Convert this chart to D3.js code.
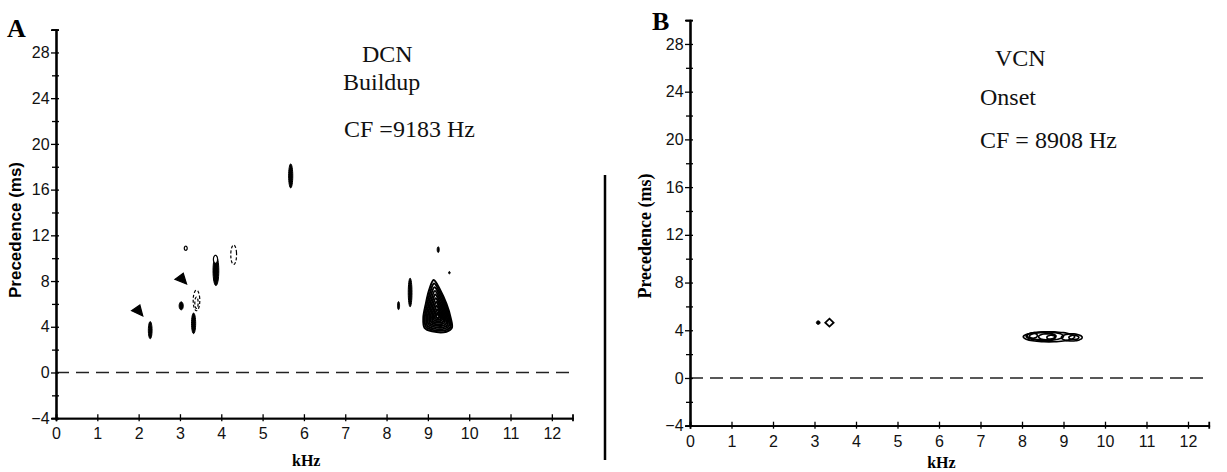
<!DOCTYPE html>
<html><head><meta charset="utf-8">
<script src="https://cdn.jsdelivr.net/npm/d3@7"></script>
<style>
html,body{margin:0;padding:0;background:#fff;}
svg{display:block;}
</style></head>
<body>
<svg id="c" width="1227" height="472"></svg>
<script>
// ---------- data ----------
const xTicks = [0,1,2,3,4,5,6,7,8,9,10,11,12];
const yMajor = [-4,0,4,8,12,16,20,24,28];
const yMinor = [-2,2,6,10,14,18,22,26,30];

// Panel A (DCN Buildup) — filled contour islands: kHz centre, ms centre, half-width kHz, half-height ms
const aFilled = [
  {k:2.28, ms:3.7,  dk:0.045, dms:0.75},
  {k:3.03, ms:5.83, dk:0.05,  dms:0.35},
  {k:3.33, ms:4.3,  dk:0.05,  dms:0.9},
  {k:3.87, ms:8.9,  dk:0.07,  dms:1.3},
  {k:5.68, ms:17.2, dk:0.05,  dms:1.05},
  {k:8.57, ms:7.0,  dk:0.045, dms:1.25},
  {k:8.29, ms:5.85, dk:0.025, dms:0.35},
  {k:9.25, ms:10.75,dk:0.025, dms:0.25},
  {k:9.52, ms:8.73, dk:0.02,  dms:0.1}
];
// Panel A open contours (k, ms, dk, dms, dashed)
const aOpen = [
  {k:3.14, ms:10.87, dk:0.035, dms:0.18, dashed:false},
  {k:3.40, ms:6.3,   dk:0.08,  dms:0.9,  dashed:true},
  {k:3.40, ms:6.1,   dk:0.04,  dms:0.5,  dashed:true},
  {k:3.86, ms:9.9,   dk:0.05,  dms:0.35, dashed:false},
  {k:4.30, ms:10.3,  dk:0.07,  dms:0.85, dashed:true}
];
// Panel A filled triangles (kHz, ms)
const aTriangles = [
  [[2.03,5.9],[1.83,5.4],[2.10,4.94]],
  [[3.08,8.68],[2.88,8.15],[3.16,7.74]]
];
// Panel A main response area near CF (outer contour, kHz / ms)
const aMainOuter = [[9.14,8.1],[9.3,7.2],[9.45,6.0],[9.55,4.8],[9.58,3.9],[9.45,3.57],[9.1,3.6],[8.92,3.9],[8.89,4.8],[8.95,6.0],[9.03,7.2]];
const aMainCentre = [9.24,4.9];
const aMainLevels = [1,0.9,0.8,0.7,0.6,0.5,0.4,0.3,0.2,0.1];

// Panel B (VCN Onset)
const bFilled = [ {k:3.09, ms:4.64, dk:0.045, dms:0.15} ];
const bDiamond = [[3.36,4.97],[3.46,4.64],[3.36,4.31],[3.26,4.64]];
const bOpen = [
  {k:8.65, ms:3.45, dk:0.62, dms:0.42},
  {k:8.55, ms:3.5,  dk:0.45, dms:0.36},
  {k:8.5,  ms:3.5,  dk:0.32, dms:0.3},
  {k:8.6,  ms:3.45, dk:0.2,  dms:0.25},
  {k:8.7,  ms:3.4,  dk:0.1,  dms:0.18},
  {k:9.2,  ms:3.4,  dk:0.25, dms:0.3},
  {k:9.25, ms:3.4,  dk:0.12, dms:0.18},
  {k:8.25, ms:3.55, dk:0.12, dms:0.22}
];

// ---------- drawing ----------
const svg = d3.select("#c");
const serif = "'Liberation Serif','Times New Roman',serif";
const sans = "'Liberation Sans',Arial,sans-serif";

function ellipsePts(b){
  return d3.range(0, 2*Math.PI, Math.PI/16).map(t => [b.k + b.dk*Math.cos(t), b.ms + b.dms*Math.sin(t)]);
}

function panel(cfg){
  const x = d3.scaleLinear().domain([0,12.5]).range(cfg.xr);
  const y = d3.scaleLinear().domain([-4,30]).range(cfg.yr);
  const g = svg.append("g");
  const line = d3.line().x(d=>x(d[0])).y(d=>y(d[1]));
  const smooth = d3.line().x(d=>x(d[0])).y(d=>y(d[1])).curve(d3.curveCatmullRomClosed);

  // zero line
  g.append("line").attr("x1",x(0)).attr("x2",x(12.5)).attr("y1",y(0)).attr("y2",y(0))
    .attr("stroke","#222").attr("stroke-width",1.5).attr("stroke-dasharray","13,7");

  // x axis
  const xa = g.append("g").attr("transform",`translate(0,${y(-4)})`)
    .call(d3.axisBottom(x).tickValues(xTicks).tickSize(3).tickFormat(d3.format("d")));
  g.append("g").attr("transform",`translate(0,${y(-4)})`)
    .call(d3.axisTop(x).tickValues(xTicks).tickSize(4).tickFormat(""));
  // y axis
  const ya = g.append("g").attr("transform",`translate(${x(0)},0)`)
    .call(d3.axisLeft(y).tickValues(yMajor).tickSize(5).tickFormat(d=>d<0?"\u2212"+(-d):d));
  g.append("g").attr("transform",`translate(${x(0)},0)`)
    .call(d3.axisLeft(y).tickValues(yMinor).tickSize(4).tickFormat(""));
  g.append("g").attr("transform",`translate(${x(0)},0)`)
    .call(d3.axisRight(y).tickValues(yMajor.concat(yMinor)).tickSize(3).tickFormat(""));
  g.selectAll(".domain").attr("stroke","#000").attr("stroke-width",1.8);
  g.selectAll(".tick line").attr("stroke","#000").attr("stroke-width",1.3);
  xa.selectAll("text").attr("font-family",sans).attr("font-size",16).attr("fill","#111").attr("dy","0.95em");
  ya.selectAll("text").attr("font-family",sans).attr("font-size",16).attr("fill","#111").attr("dx","0.1em");

  // axis titles
  g.append("text").attr("x",(x(0)+x(12.5))/2 - 8).attr("y",cfg.kHzY).attr("text-anchor","middle")
    .attr("font-family",serif).attr("font-weight","bold").attr("font-size",16).text("kHz");
  g.append("text").attr("transform",`translate(${cfg.ylabX},${cfg.ylabY}) rotate(-90)`).attr("text-anchor","middle")
    .attr("font-family",cfg.ylabFont).attr("font-weight","bold").attr("font-size",cfg.ylabSize).text("Precedence (ms)");

  // panel letter
  g.append("text").attr("x",cfg.letter[1]).attr("y",cfg.letter[2]).attr("font-family",serif)
    .attr("font-weight","bold").attr("font-size",26).text(cfg.letter[0]);
  // annotations
  cfg.notes.forEach(n=>{
    g.append("text").attr("x",n[1]).attr("y",n[2]).attr("font-family",serif).attr("font-size",24)
      .attr("fill","#111").text(n[0]);
  });

  // contours
  const c = g.append("g");
  (cfg.triangles||[]).forEach(t=>{
    c.append("path").attr("d",line(t)+"Z").attr("fill","#000").attr("stroke","#000").attr("stroke-width",1.2);
  });
  (cfg.filled||[]).forEach(b=>{
    c.append("path").attr("d",smooth(ellipsePts(b))).attr("fill","#000").attr("stroke","#000").attr("stroke-width",1);
  });
  if(cfg.main){
    cfg.levels.forEach((s,i)=>{
      const pts = cfg.main.map(p=>[cfg.centre[0]+(p[0]-cfg.centre[0])*s, cfg.centre[1]+(p[1]-cfg.centre[1])*s]);
      c.append("path").attr("d",smooth(pts)).attr("fill",i===0?"#fff":"none").attr("stroke","#000").attr("stroke-width",2);
    });
  }
  (cfg.open||[]).forEach(b=>{
    c.append("path").attr("d",smooth(ellipsePts(b))).attr("fill",cfg.openFill).attr("stroke","#000")
      .attr("stroke-width",cfg.openWidth).attr("stroke-dasharray",b.dashed?"3,2":null);
  });
  if(cfg.diamond){
    c.append("path").attr("d",line(cfg.diamond)+"Z").attr("fill","#fff").attr("stroke","#000").attr("stroke-width",1.8);
  }
}

panel({
  xr:[56,572.5], yr:[418.2,29.6], kHzY:466, ylabX:21, ylabY:230, ylabFont:sans, ylabSize:17,
  letter:["A",7,37],
  notes:[["DCN",362,62],["Buildup",343,90],["CF =9183 Hz",344,137]],
  triangles:aTriangles, filled:aFilled, open:aOpen, openFill:"#fff", openWidth:1.2,
  main:aMainOuter, centre:aMainCentre, levels:aMainLevels
});
panel({
  xr:[690,1208.75], yr:[425.7,20.1], kHzY:468, ylabX:651, ylabY:236, ylabFont:serif, ylabSize:18,
  letter:["B",652,30],
  notes:[["VCN",995,66],["Onset",980,105],["CF = 8908 Hz",980,148]],
  filled:bFilled, open:bOpen, openFill:"none", openWidth:1.6, diamond:bDiamond
});

// divider rule between panels
svg.append("line").attr("x1",605).attr("x2",605).attr("y1",175).attr("y2",460)
  .attr("stroke","#000").attr("stroke-width",2.5);
</script>
</body></html>
